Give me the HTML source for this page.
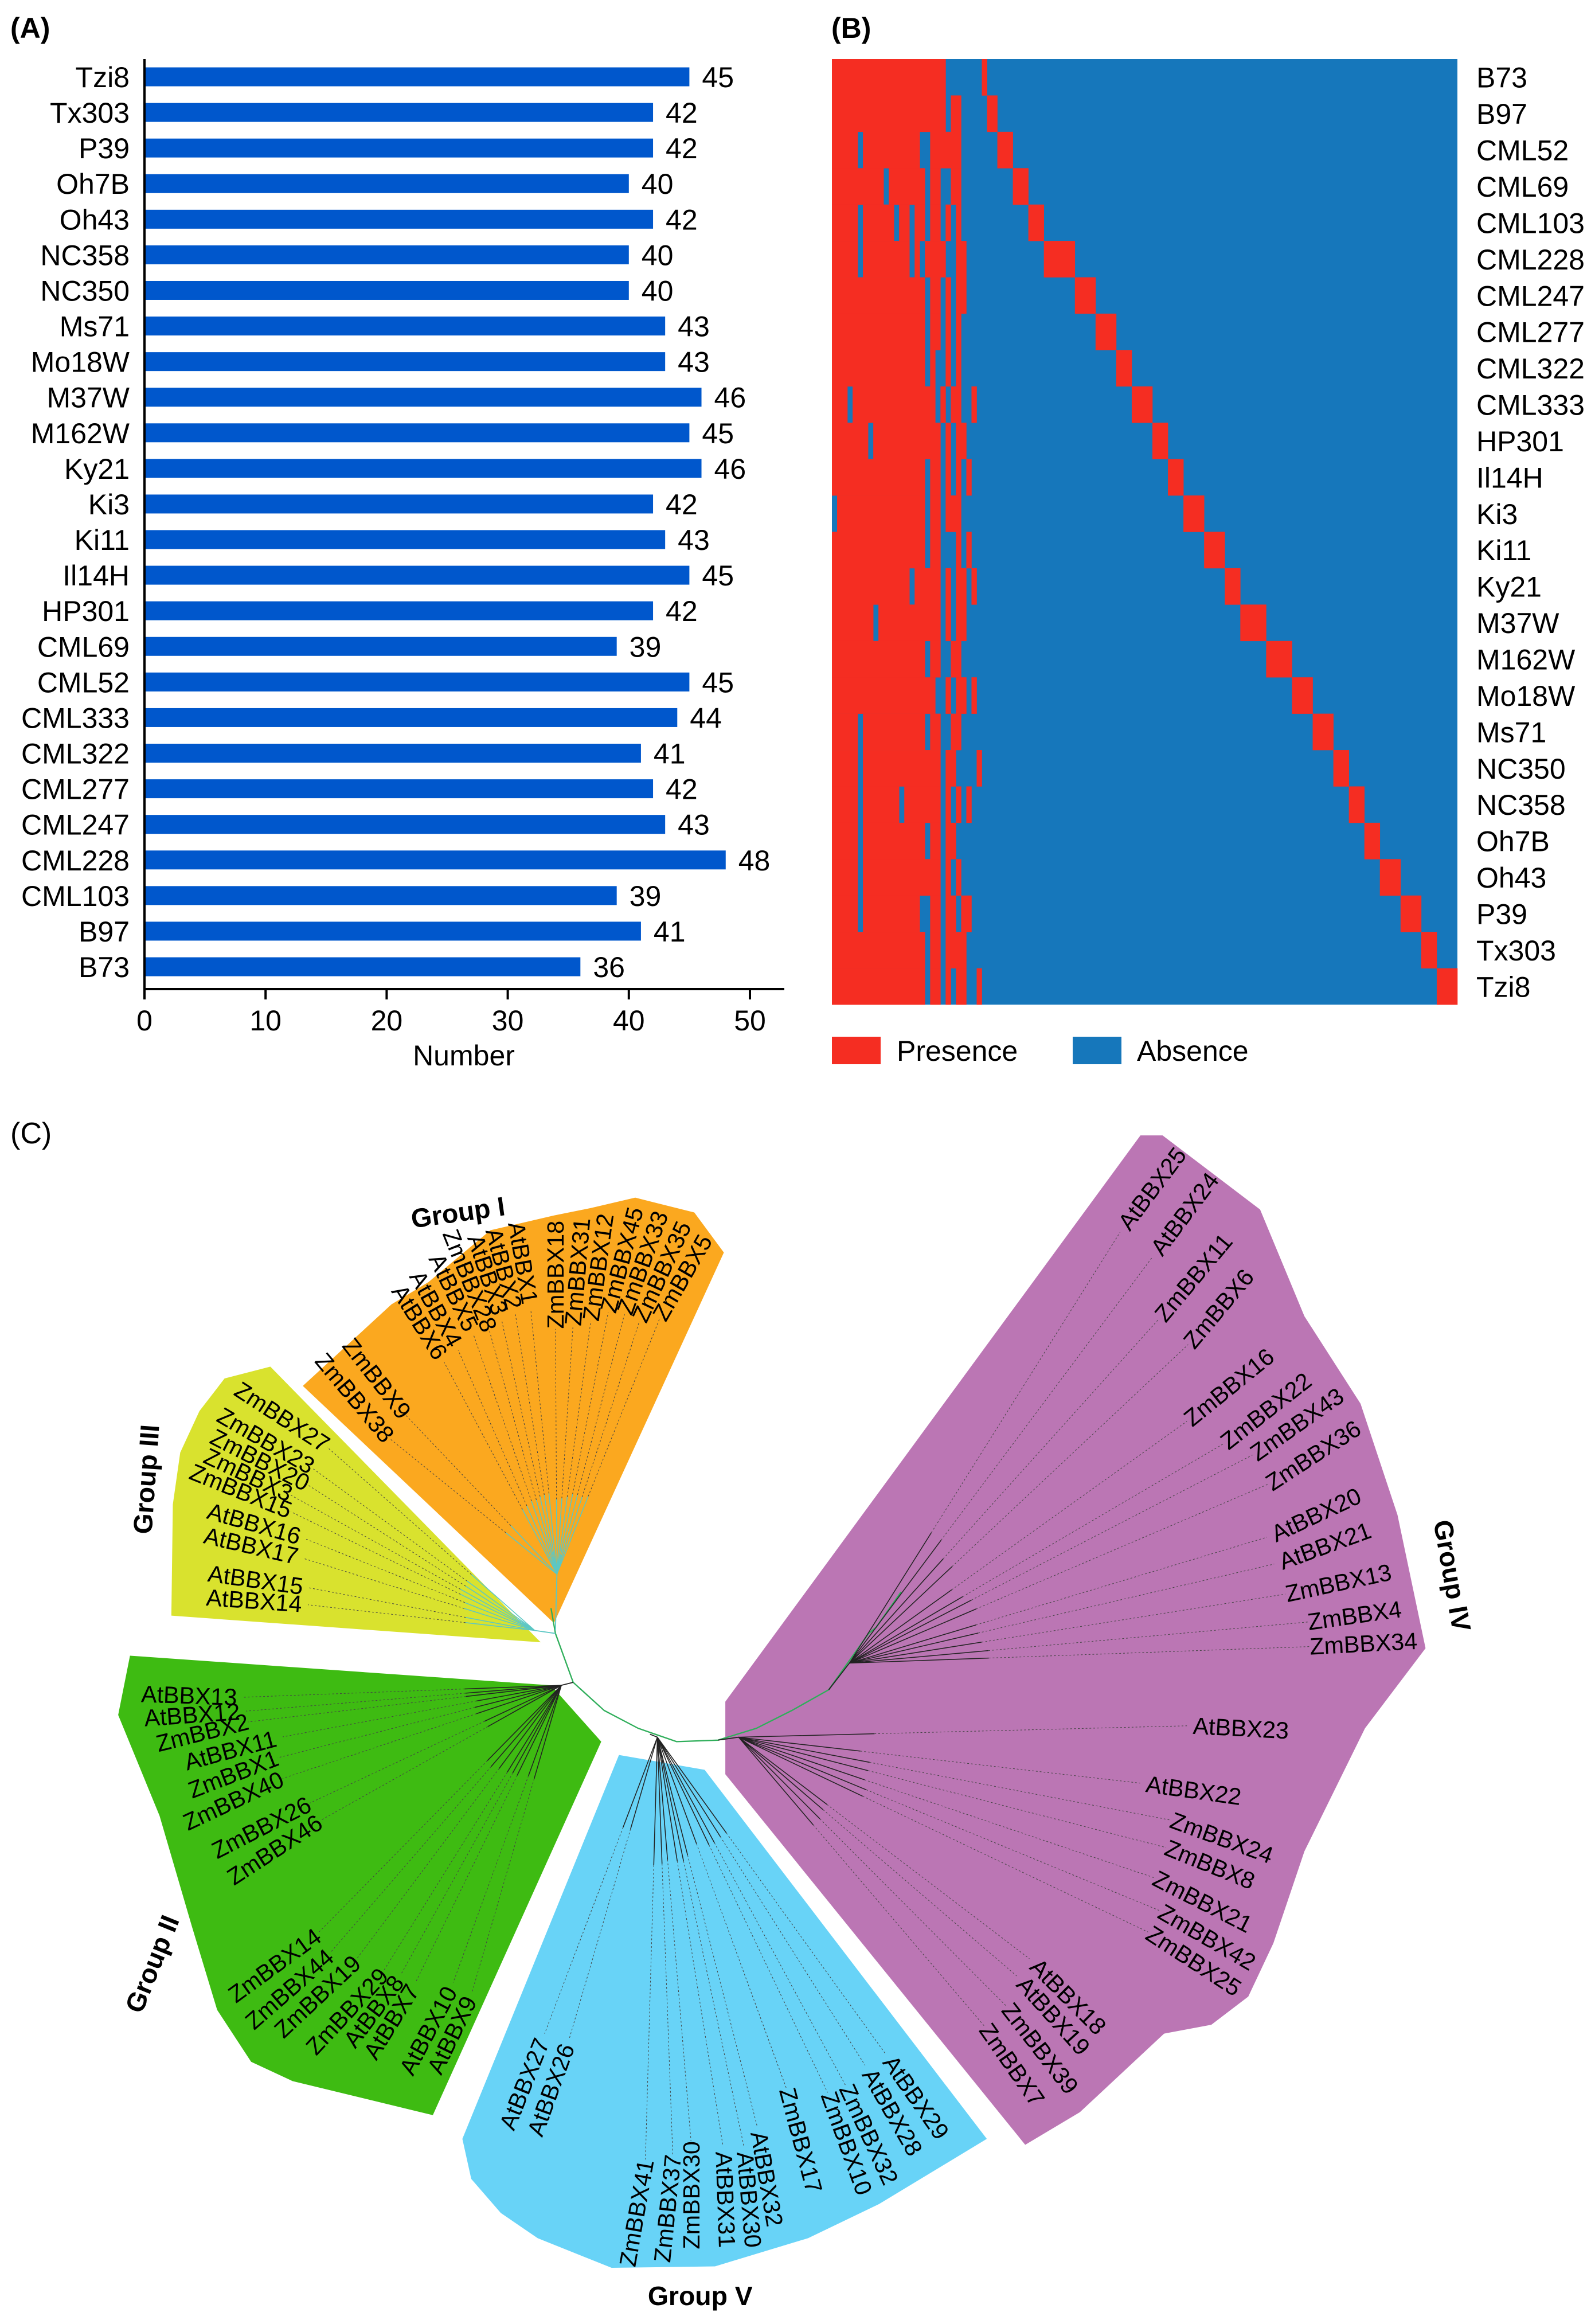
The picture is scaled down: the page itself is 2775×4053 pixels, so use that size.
<!DOCTYPE html>
<html><head><meta charset="utf-8"><style>
html,body{margin:0;padding:0;background:#fff}
svg{display:block;font-family:"Liberation Sans",sans-serif}
</style></head><body>
<svg id="fig" width="2775" height="4053" viewBox="0 0 2775 4053" xmlns="http://www.w3.org/2000/svg">
<g id="panelA">
<text x="18" y="66" font-size="50" font-weight="bold">(A)</text>
</g>
<g id="panelB">
<text x="1450" y="66" font-size="50" font-weight="bold">(B)</text>
</g>
<g id="panelC">
<text x="18" y="1994" font-size="52">(C)</text>
</g>
</svg>
<script>
const barCategories=["Tzi8","Tx303","P39","Oh7B","Oh43","NC358","NC350","Ms71","Mo18W","M37W","M162W","Ky21","Ki3","Ki11","Il14H","HP301","CML69","CML52","CML333","CML322","CML277","CML247","CML228","CML103","B97","B73"];
const barValues=[45,42,42,40,42,40,40,43,43,46,45,46,42,43,45,42,39,45,44,41,42,43,48,39,41,36];
const xTicks=[0,10,20,30,40,50];
const heatRows=["B73","B97","CML52","CML69","CML103","CML228","CML247","CML277","CML322","CML333","HP301","Il14H","Ki3","Ki11","Ky21","M37W","M162W","Mo18W","Ms71","NC350","NC358","Oh7B","Oh43","P39","Tx303","Tzi8"];
const heatCoreEnd=[22,22,25,25,25,25,26,25,25,25,26,25,25,25,26,26,25,26,25,24,25,24,25,26,26,26];
const heatCoreAbsent=[[],[],[5,17,18],[10,18,21,22],[5,12,15,18,21,23],[5,15,17,22,23],[18,21,23],[18,21,23],[18,20,21,23],[3,20,22],[7,21,23],[18,21,23],[0,18,21],[18,21,22,23],[15,21,23],[8,21,23],[18,21,22],[20,21,23],[5,18,21,22],[5,21],[5,13,21,23],[5,18,21],[5,21,23],[5,17,18,21,24],[18,21],[18,21,23]];
const heatExtra=[[],[23,24],[],[],[],[25],[],[],[],[27],[],[26],[],[26],[27],[],[],[27],[],[28],[26],[],[],[26],[],[28]];
const uniqueBounds=[29,30,32,35,38,41,47,51,55,58,62,65,68,72,76,79,84,89,93,97,100,103,106,110,114,117,121];
const totalCols=121;
</script>
<script>
const NS="http://www.w3.org/2000/svg";
function mk(tag,attrs,parent,txt){const e=document.createElementNS(NS,tag);for(const k in attrs)e.setAttribute(k,attrs[k]);if(txt!==undefined)e.textContent=txt;parent.appendChild(e);return e;}
// ---------- Panel A ----------
const A=document.getElementById('panelA');
const ax0=252, axUnit=21.12, rowY0=134, rowStep=62.08, barH=33;
const xs=v=>ax0+v*axUnit;
const ys=i=>rowY0+i*rowStep;
barCategories.forEach((c,i)=>{
  const r=mk('rect',{x:xs(0),y:ys(i)-barH/2,width:xs(barValues[i])-xs(0),height:barH,fill:'#0057CC'},A);
  
  
  const t=mk('text',{x:226,y:ys(i)+18,'font-size':50,'text-anchor':'end'},A,c);
  
  
  const v=mk('text',{x:xs(barValues[i])+22,y:ys(i)+18,'font-size':50},A,String(barValues[i]));
  
  
});
const yAx=mk('line',{x1:ax0,y1:103,x2:ax0,y2:1725,stroke:'#000','stroke-width':4},A);


const xAx=mk('line',{x1:ax0-2,y1:1725,x2:1368,y2:1725,stroke:'#000','stroke-width':4},A);


xTicks.forEach(t=>{
  const l=mk('line',{x1:xs(t),y1:1725,x2:xs(t),y2:1743,stroke:'#000','stroke-width':4},A);
  
  
  const tx=mk('text',{x:xs(t),y:1797,'font-size':50,'text-anchor':'middle'},A,String(t));
  
  
});
const xt=mk('text',{x:809,y:1858,'font-size':50,'text-anchor':'middle'},A,'Number');


// ---------- Panel B ----------
const B=document.getElementById('panelB');
const hx0=1451,hx1=2542,hy0=103,hy1=1752;
const cw=(hx1-hx0)/totalCols, rh=(hy1-hy0)/heatRows.length;
const cx=c=>hx0+c*cw, ry=r=>hy0+r*rh;
const bg=mk('rect',{x:hx0,y:hy0,width:hx1-hx0,height:hy1-hy0,fill:'#1677BB'},B);


heatRows.forEach((name,r)=>{
  const pres=new Array(totalCols).fill(false);
  for(let c=0;c<heatCoreEnd[r];c++)pres[c]=true;
  heatCoreAbsent[r].forEach(c=>pres[c]=false);
  heatExtra[r].forEach(c=>pres[c]=true);
  for(let c=uniqueBounds[r];c<uniqueBounds[r+1];c++)pres[c]=true;
  let c=0;
  while(c<totalCols){
    if(pres[c]){let s=c;while(c<totalCols&&pres[c])c++;
      const cell=mk('rect',{x:cx(s),y:ry(r),width:cx(c)-cx(s)+0.3,height:rh+0.3,fill:'#F52D22'},B);
      
      
    } else c++;
  }
  const t=mk('text',{x:2575,y:ry(r)+rh/2+18,'font-size':50},B,name);
  
  
});
[['#F52D22','Presence',1451,1564],['#1677BB','Absence',1871,1983]].forEach(d=>{
  const sw=mk('rect',{x:d[2],y:1808,width:85,height:48,fill:d[0]},B);
  
  
  const t=mk('text',{x:d[3],y:1850,'font-size':50},B,d[1]);
  
  
});
// ---------- Panel C ----------
const C=document.getElementById('panelC');
const G=mk('g',{transform:'scale(2.5766,2.585)'},C);
const polys={
 I:{fill:'#FBA81F',pts:[[205,935],[265,880],[290,865],[320,840],[332,830],[375,820],[400,815],[430,808],[470,818],[490,845],[375,1095]]},
 III:{fill:'#D9E22E',pts:[[116,1090],[117,1015],[122,980],[135,952],[152,930],[183,922],[366,1108]]},
 II:{fill:'#3EBB12',pts:[[88,1117],[373,1137],[407,1175],[293,1427],[198,1404],[170,1391],[147,1356],[130,1300],[108,1225],[80,1157]]},
 V:{fill:'#68D3F7',pts:[[419,1184],[477,1194],[668,1443],[595,1487],[547,1510],[484,1529],[414,1530],[364,1510],[339,1493],[319,1470],[313,1443]]},
 IV:{fill:'#BB76B4',pts:[[491,1148],[772,766],[787,766],[853,816],[883,888],[921,947],[946,1022],[965,1112],[924,1166],[883,1249],[862,1311],[845,1347],[820,1366],[788,1372],[731,1425],[694,1447],[491,1197]]}
};
for(const k in polys){
  const p=mk('polygon',{points:polys[k].pts.map(q=>q.join(',')).join(' '),fill:polys[k].fill},G);
  
  
}
const backbone=[[373,1085],[376,1102],[388,1135],[409,1154],[432,1166],[458,1175],[486,1174],[512,1166],[536,1154],[561,1140],[588,1102],[593,1098],[610,1074]];
const bb=mk('polyline',{points:backbone.map(q=>q.join(',')).join(' '),fill:'none',stroke:'#2FAE5A','stroke-width':0.9},G);


const nodes={I:[377,1062],III:[362,1100],II:[380,1137],V:[445,1172],IVa:[575,1122],IVb:[500,1172]};
const stems={I:[376,1100],III:[376,1102],II:[388,1135],V:[440,1170],IVa:[561,1140],IVb:[486,1174]};
const leaves=[
["AtBBX6",284,892,58,"I"],["AtBBX4",295,883,61,"I"],["AtBBX5",307,872,64,"I"],["ZmBBX28",318,864,68,"I"],["AtBBX3",330,860,72,"I"],["AtBBX2",341,856,75,"I"],["AtBBX1",354,852,80,"I"],
["ZmBBX9",255,930,52,"I"],["ZmBBX38",240,943,50,"I"],
["ZmBBX18",376,860,-90,"I"],["ZmBBX31",391,858,-85,"I"],["ZmBBX12",405,855,-82,"I"],["ZmBBX45",421,850,-75,"I"],["ZmBBX33",435,852,-70,"I"],["ZmBBX35",448,858,-65,"I"],["ZmBBX5",462,862,-60,"I"],
["ZmBBX27",191,956,33,"III"],["ZmBBX23",180,972,30,"III"],["ZmBBX20",176,985,27,"III"],["ZmBBX3",168,995,25,"III"],["ZmBBX15",163,1006,22,"III"],["AtBBX16",172,1028,16,"III"],["AtBBX17",170,1043,13,"III"],["AtBBX15",173,1066,8,"III"],["AtBBX14",172,1080,4,"III"],
["AtBBX13",128,1144,2,"II"],["AtBBX12",130,1157,-4,"II"],["ZmBBX2",137,1169,-14,"II"],["AtBBX11",156,1181,-15,"II"],["ZmBBX1",158,1197,-21,"II"],["ZmBBX40",158,1215,-25,"II"],["ZmBBX26",177,1233,-27,"II"],["ZmBBX46",186,1248,-33,"II"],
["ZmBBX14",186,1326,-36,"II"],["ZmBBX44",196,1342,-41,"II"],["ZmBBX19",215,1347,-43,"II"],["ZmBBX29",235,1357,-47,"II"],["AtBBX8",253,1357,-53,"II"],["AtBBX7",265,1364,-58,"II"],["AtBBX10",290,1370,-62,"II"],["AtBBX9",306,1373,-64,"II"],
["AtBBX27",355,1406,-68,"V"],["AtBBX26",373,1410,-70,"V"],["ZmBBX41",431,1493,-80,"V"],["ZmBBX37",452,1490,-84,"V"],["ZmBBX30",468,1481,-90,"V"],
["AtBBX31",491,1484,88,"V"],["AtBBX30",507,1484,85,"V"],["AtBBX32",519,1470,80,"V"],["ZmBBX17",542,1444,75,"V"],["ZmBBX10",573,1446,70,"V"],["ZmBBX32",588,1440,65,"V"],["AtBBX28",604,1425,60,"V"],["AtBBX29",620,1415,55,"V"],
["AtBBX25",780,802,-53,"IVa"],["AtBBX24",802,819,-53,"IVa"],["ZmBBX11",808,862,-50,"IVa"],["ZmBBX6",825,883,-50,"IVa"],["ZmBBX16",832,936,-39,"IVa"],["ZmBBX22",857,952,-38,"IVa"],["ZmBBX43",878,961,-35,"IVa"],["ZmBBX36",889,982,-33,"IVa"],["AtBBX20",891,1022,-25,"IVa"],["AtBBX21",897,1043,-20,"IVa"],["ZmBBX13",906,1068,-12,"IVa"],["ZmBBX4",917,1090,-8,"IVa"],["ZmBBX34",923,1109,-3,"IVa"],
["AtBBX23",840,1166,3,"IVb"],["AtBBX22",808,1208,8,"IVb"],["ZmBBX24",827,1240,20,"IVb"],["ZmBBX8",819,1258,22,"IVb"],["ZmBBX21",814,1283,27,"IVb"],["ZmBBX42",817,1307,30,"IVb"],["ZmBBX25",808,1323,33,"IVb"],["AtBBX18",723,1347,45,"IVb"],["AtBBX19",713,1360,48,"IVb"],["ZmBBX39",704,1382,52,"IVb"],["ZmBBX7",685,1393,55,"IVb"]
];
for(const k in nodes){
  const s=mk('line',{x1:stems[k][0],y1:stems[k][1],x2:nodes[k][0],y2:nodes[k][1],stroke:(k==='I'||k==='III')?'#5CC7C4':'#222','stroke-width':0.7},G);
  
  
}
const FS=16;
leaves.forEach(L=>{
  const [name,lx,ly,ang,g]=L;
  const w=name.length*FS*0.6;
  const a=ang*Math.PI/180, dx=Math.cos(a)*w/2, dy=Math.sin(a)*w/2;
  const n=nodes[g];
  const e1=[lx-dx,ly-dy], e2=[lx+dx,ly+dy];
  const d1=Math.hypot(e1[0]-n[0],e1[1]-n[1]), d2=Math.hypot(e2[0]-n[0],e2[1]-n[1]);
  let e=d1<d2?e1:e2;
  const len=Math.hypot(e[0]-n[0],e[1]-n[1]);
  const ux=(e[0]-n[0])/len, uy=(e[1]-n[1])/len;
  const end=[e[0]-ux*3,e[1]-uy*3];
  const mid=[n[0]+ux*len*0.3,n[1]+uy*len*0.3];
  const sl=mk('line',{x1:n[0],y1:n[1],x2:mid[0],y2:mid[1],stroke:(g==='I'||g==='III')?'#5CC7C4':'#222','stroke-width':0.6},G);
  
  
  const dl=mk('line',{x1:mid[0],y1:mid[1],x2:end[0],y2:end[1],stroke:'#444','stroke-width':0.4,'stroke-dasharray':'1.2 1.4'},G);
  
  
  const t=mk('text',{x:lx,y:ly,'font-size':FS,'text-anchor':'middle','dominant-baseline':'central',transform:`rotate(${ang} ${lx} ${ly})`},G,name);
  
  
});
[["Group I",310,818,-8],["Group III",99,998,-86],["Group II",103,1325,-68],["Group IV",983,1063,80],["Group V",474,1549,0]].forEach(g=>{
  const t=mk('text',{x:g[1],y:g[2],'font-size':18,'font-weight':'bold','text-anchor':'middle','dominant-baseline':'central',transform:`rotate(${g[3]} ${g[1]} ${g[2]})`},G,g[0]);
  
  
});
</script>
</body></html>
